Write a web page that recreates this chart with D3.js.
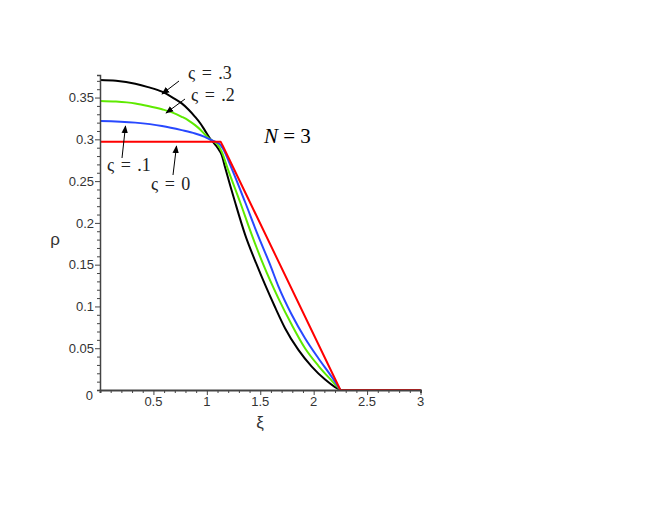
<!DOCTYPE html>
<html>
<head>
<meta charset="utf-8">
<script src="https://cdn.jsdelivr.net/npm/d3@7"></script>
<style>
  html, body { margin: 0; padding: 0; background: #fff; }
  svg { display: block; }
</style>
</head>
<body>
<svg id="chart" width="664" height="513"></svg>
<script>
// ---- data ----
const xTicks = [0.5, 1, 1.5, 2, 2.5, 3];
const xTickLabels = ["0.5", "1", "1.5", "2", "2.5", "3"];
const yTicks = [0.05, 0.1, 0.15, 0.2, 0.25, 0.3, 0.35];
const yTickLabels = ["0.05", "0.1", "0.15", "0.2", "0.25", "0.3", "0.35"];

const xiBlack  = [0, 0.15, 0.33, 0.45, 0.58, 0.68, 0.765, 0.83, 0.89, 0.94, 0.98, 1.03, 1.07, 1.1, 1.14, 1.17, 1.264, 1.358, 1.467, 1.545, 1.639, 1.732, 1.857, 1.982, 2.107, 2.2, 2.25, 3];
const rhoBlack = [0.371, 0.370, 0.3665, 0.3625, 0.357, 0.350, 0.343, 0.3355, 0.327, 0.319, 0.311, 0.301, 0.295, 0.290, 0.281, 0.267, 0.225, 0.186, 0.150, 0.126, 0.099, 0.074, 0.048, 0.028, 0.0125, 0.0035, 0, 0];

const xiGreen  = [0, 0.15, 0.33, 0.45, 0.58, 0.68, 0.765, 0.83, 0.89, 0.94, 0.98, 1.03, 1.07, 1.1, 1.14, 1.195, 1.311, 1.42, 1.529, 1.67, 1.795, 1.919, 2.044, 2.17, 2.25, 3];
const rhoGreen = [0.346, 0.3453, 0.343, 0.340, 0.336, 0.332, 0.327, 0.3225, 0.317, 0.3115, 0.306, 0.300, 0.297, 0.294, 0.285, 0.265, 0.225, 0.186, 0.150, 0.1097, 0.078, 0.050, 0.029, 0.011, 0, 0];

const xiBlue  = [0, 0.33, 0.58, 0.765, 0.89, 0.98, 1.06, 1.114, 1.15, 1.233, 1.358, 1.476, 1.592, 1.67, 1.795, 1.919, 2.044, 2.17, 2.25, 3];
const rhoBlue = [0.322, 0.320, 0.316, 0.311, 0.307, 0.303, 0.298, 0.295, 0.289, 0.265, 0.225, 0.186, 0.150, 0.124, 0.090, 0.062, 0.038, 0.0155, 0, 0];

const xiRed  = [0, 1.13, 1.15, 2.25, 3];
const rhoRed = [0.297, 0.297, 0.292, 0, 0];

const series = [
  { name: "ς = .3", xi: xiBlack, rho: rhoBlack, color: "#000000" },
  { name: "ς = .2", xi: xiGreen, rho: rhoGreen, color: "#5eea00" },
  { name: "ς = .1", xi: xiBlue,  rho: rhoBlue,  color: "#2848ff" },
  { name: "ς = 0",  xi: xiRed,   rho: rhoRed,   color: "#ff0000" }
];
const edge = 2.25; // support edge where all profiles reach zero

// ---- layout ----
const svg = d3.select("#chart");
const x = d3.scaleLinear().domain([0, 3]).range([100, 420.5]);
const y = d3.scaleLinear().domain([0, 0.377]).range([390, 75]);

const smooth = d3.line()
  .x(d => x(d[0]))
  .y(d => y(d[1]))
  .curve(d3.curveMonotoneX);
const straight = d3.line()
  .x(d => x(d[0]))
  .y(d => y(d[1]));

// curves
series.forEach(s => {
  const pts = s.xi.map((v, i) => [v, s.rho[i]]);
  const body = pts.filter(p => p[0] <= edge);
  const tail = pts.filter(p => p[0] >= edge);
  const g = svg.append("g")
    .attr("fill", "none")
    .attr("stroke", s.color)
    .attr("stroke-width", 2)
    .attr("stroke-linejoin", "round");
  g.append("path").attr("d", s.xi.length <= 5 ? straight(body) : smooth(body));
  g.append("path").attr("d", straight(tail));
});

// ---- axes ----
const axisColor = "#444";
const labelFont = "Liberation Sans, Arial, sans-serif";

// x axis (ticks downward)
const xAxis = d3.axisBottom(x)
  .tickValues(d3.range(1, 31).map(i => i / 10))
  .tickSize(3)
  .tickFormat("");
const gx = svg.append("g").attr("transform", `translate(0,${y(0)})`).call(xAxis);
gx.select(".domain").attr("stroke", axisColor).attr("stroke-width", 2);
gx.selectAll(".tick line").attr("stroke", axisColor).attr("stroke-width", 1);
gx.selectAll(".tick").filter(d => Math.abs(d * 2 - Math.round(d * 2)) < 1e-6)
  .select("line").attr("y2", 5);

svg.append("g").selectAll("text")
  .data(xTicks)
  .join("text")
  .attr("x", d => x(d))
  .attr("y", 406)
  .attr("text-anchor", "middle")
  .attr("font-family", labelFont)
  .attr("font-size", 13)
  .attr("fill", "#333")
  .text((d, i) => xTickLabels[i]);

// y axis (ticks to the left)
const yAxis = d3.axisLeft(y)
  .tickValues(d3.range(1, 38).map(i => i / 100))
  .tickSize(3)
  .tickFormat("");
const gy = svg.append("g").attr("transform", `translate(${x(0)},0)`).call(yAxis);
gy.select(".domain").attr("stroke", axisColor).attr("stroke-width", 1.5);
gy.selectAll(".tick line").attr("stroke", axisColor).attr("stroke-width", 1);
gy.selectAll(".tick").filter(d => Math.abs(d * 20 - Math.round(d * 20)) < 1e-6)
  .select("line").attr("x2", -5);

svg.append("g").selectAll("text")
  .data(yTicks)
  .join("text")
  .attr("x", 94)
  .attr("y", d => y(d))
  .attr("dy", "0.36em")
  .attr("text-anchor", "end")
  .attr("font-family", labelFont)
  .attr("font-size", 13)
  .attr("fill", "#333")
  .text((d, i) => yTickLabels[i]);

// origin label
svg.append("text")
  .attr("x", 93).attr("y", 400)
  .attr("text-anchor", "end")
  .attr("font-family", labelFont)
  .attr("font-size", 13)
  .attr("fill", "#333")
  .text("0");

// axis titles
svg.append("text")
  .attr("x", 55).attr("y", 245)
  .attr("text-anchor", "middle")
  .attr("font-family", labelFont)
  .attr("font-size", 17)
  .attr("fill", "#333")
  .text("ρ");
svg.append("text")
  .attr("x", 260).attr("y", 428)
  .attr("text-anchor", "middle")
  .attr("font-family", labelFont)
  .attr("font-size", 17)
  .attr("fill", "#333")
  .text("ξ");

// ---- annotations ----
svg.append("defs").append("marker")
  .attr("id", "ah")
  .attr("viewBox", "0 0 10 10")
  .attr("refX", 9).attr("refY", 5)
  .attr("markerWidth", 8).attr("markerHeight", 8)
  .attr("markerUnits", "userSpaceOnUse")
  .attr("orient", "auto")
  .append("path").attr("d", "M0,1 L10,5 L0,9 Z").attr("fill", "#000");

const notes = [
  { label: series[0].name, tx: 188, ty: 79,  x1: 179, y1: 81,  x2: 162, y2: 94 },
  { label: series[1].name, tx: 191, ty: 101, x1: 185, y1: 99,  x2: 166, y2: 113 },
  { label: series[2].name, tx: 107, ty: 171, x1: 122, y1: 158, x2: 125.5, y2: 126 },
  { label: series[3].name, tx: 151, ty: 190, x1: 173, y1: 175, x2: 176.5, y2: 146 }
];
notes.forEach(n => {
  svg.append("line")
    .attr("x1", n.x1).attr("y1", n.y1)
    .attr("x2", n.x2).attr("y2", n.y2)
    .attr("stroke", "#000").attr("stroke-width", 1)
    .attr("marker-end", "url(#ah)");
  svg.append("text")
    .attr("x", n.tx).attr("y", n.ty)
    .attr("font-family", "Liberation Serif, Times New Roman, serif")
    .attr("font-size", 18)
    .attr("word-spacing", 2)
    .attr("fill", "#222")
    .text(n.label);
});

const nt = svg.append("text")
  .attr("x", 264).attr("y", 143)
  .attr("font-family", "Liberation Serif, Times New Roman, serif")
  .attr("font-size", 21)
  .attr("fill", "#000");
nt.append("tspan").attr("font-style", "italic").text("N");
nt.append("tspan").text(" = 3");
</script>
</body>
</html>
